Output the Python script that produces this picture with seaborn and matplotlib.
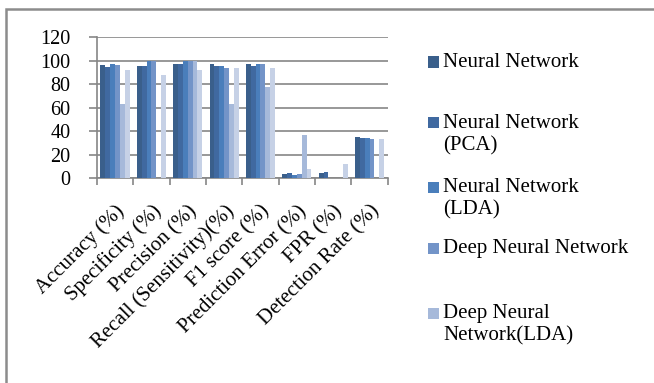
import matplotlib
matplotlib.use("Agg")
import matplotlib.pyplot as plt
import matplotlib.transforms as mtransforms
from matplotlib.patches import Rectangle
import numpy as np
import pandas as pd
import seaborn as sns

# Metrics on the x axis
categories = [
    "Accuracy (%)", "Specificity (%)", "Precision (%)",
    "Recall (Sensitivity)(%)", "F1 score (%)", "Prediction Error (%)",
    "FPR (%)", "Detection Rate (%)",
]

# Model names (legend shows the first five)
models = [
    "Neural Network",
    "Neural Network\n(PCA)",
    "Neural Network\n(LDA)",
    "Deep Neural Network",
    "Deep Neural\nNetwork(LDA)",
    "Deep Neural Network(PCA)",
]

# Scores per model, one value per metric
nn = [96.3, 95.2, 97.2, 97.2, 97.2, 3.1, 4.6, 35.0]
nn_pca = [94.9, 95.2, 97.2, 95.2, 95.7, 4.6, 4.8, 33.9]
nn_lda = [96.9, 100.0, 100.0, 95.2, 97.4, 2.8, 0.0, 33.9]
dnn = [96.0, 100.0, 100.0, 94.0, 96.9, 3.1, 0.0, 33.3]
dnn_lda = [62.7, 0.0, 100.0, 62.7, 77.5, 37.0, 0.0, 0.0]
dnn_pca = [91.7, 87.8, 92.0, 94.0, 93.5, 8.0, 12.3, 33.3]

series = [nn, nn_pca, nn_lda, dnn, dnn_lda, dnn_pca]
colors = ["#3A5F8B", "#4069A0", "#4A7EBB", "#7394C8", "#A6B9DA", "#C6D1E6"]

yticks = [0, 20, 40, 60, 80, 100, 120]

df = pd.DataFrame({
    "metric": np.repeat([categories], len(models), axis=0).ravel(),
    "model": np.repeat(models, len(categories)),
    "value": np.concatenate(series),
})

sns.set_theme(style="white")
plt.rcParams["font.family"] = ["Liberation Serif", "DejaVu Serif"]

fig = plt.figure(figsize=(6.54, 3.83), dpi=100)
ax = fig.add_axes([0.148, 0.535, 0.445, 0.368])

sns.barplot(
    data=df, x="metric", y="value", hue="model", order=categories,
    hue_order=models, palette=colors, width=0.8, saturation=1,
    edgecolor="none", linewidth=0, legend=False, ax=ax, zorder=3,
)

grid_col = "#868686"
ax.set_ylim(0, 120)
ax.set_yticks(yticks)
ax.set_yticklabels([str(t) for t in yticks], fontsize=14.5, color="black")
ax.yaxis.grid(True, color=grid_col, linewidth=1.2, zorder=0)
ax.set_xlim(-0.5, len(categories) - 0.5)

# ticks at category boundaries, labels at category centres
ax.set_xticks(np.arange(len(categories) + 1) - 0.5)
ax.set_xticklabels([])
ax.set_xticks(np.arange(len(categories)), minor=True)
ax.set_xticklabels(categories, minor=True, rotation=45, ha="right",
                   rotation_mode="anchor", fontsize=15, color="black")
shift = mtransforms.ScaledTranslation(5 / 100, 0, fig.dpi_scale_trans)
for lbl in ax.get_xticklabels(minor=True):
    lbl.set_transform(lbl.get_transform() + shift)
ax.tick_params(axis="x", which="major", length=5, width=1.2, color=grid_col,
               direction="out", bottom=True)
ax.tick_params(axis="x", which="minor", length=0, pad=17)
ax.tick_params(axis="y", length=6, width=1.2, color=grid_col,
               direction="out", left=True, pad=13)
ax.set_xlabel("")
ax.set_ylabel("")
for side in ("top", "right"):
    ax.spines[side].set_visible(False)
for side in ("left", "bottom"):
    ax.spines[side].set_color(grid_col)
    ax.spines[side].set_linewidth(1.2)

# outer chart frame
fig.patches.append(Rectangle((6 / 654, -0.1), 1.2, 1 - 9 / 383 + 0.1,
                             transform=fig.transFigure, fill=False,
                             edgecolor="#8C8C8C", linewidth=1.8))

# legend entries: square marker aligned with the first text line
legend_y = [62, 123, 187, 248, 313]
for name, col, ypx in zip(models[:5], colors[:5], legend_y):
    fy = 1 - ypx / 383
    fig.patches.append(Rectangle((428 / 654, fy - 5.5 / 383), 11 / 654, 11 / 383,
                                 transform=fig.transFigure, facecolor=col,
                                 edgecolor="none"))
    fig.text(443 / 654, fy + 9 / 383, name, fontsize=15, va="top",
             ha="left", linespacing=1.25, color="black")

fig.savefig("out.png", dpi=100)
